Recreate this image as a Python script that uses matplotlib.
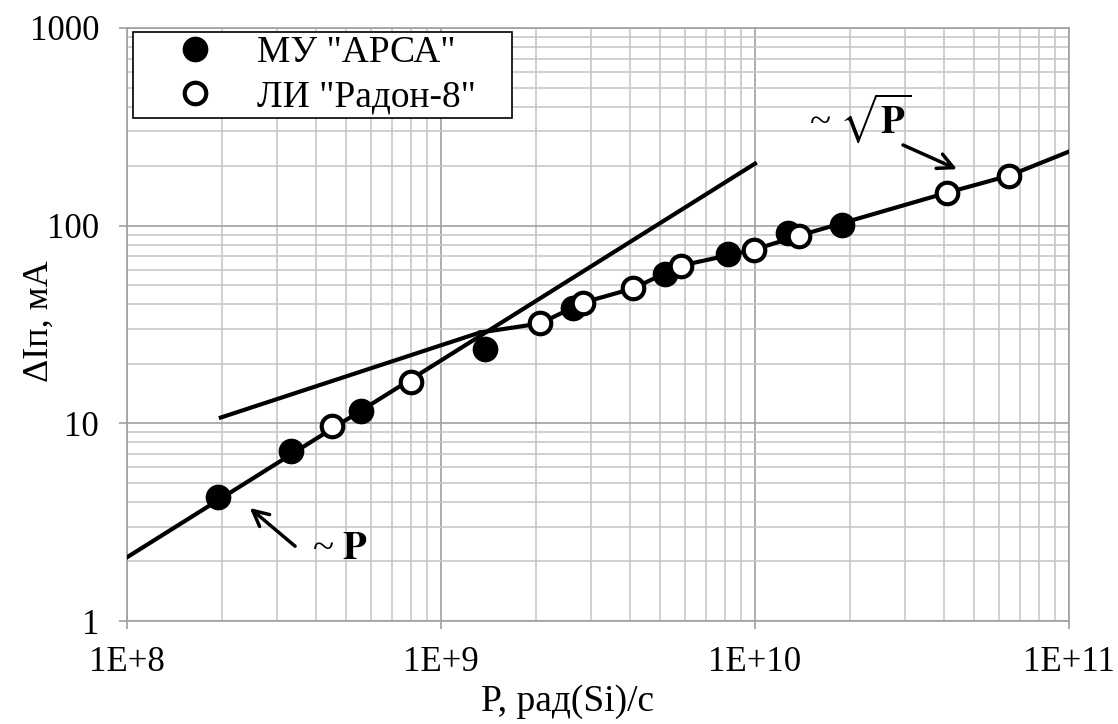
import matplotlib
matplotlib.use("Agg")
import matplotlib.pyplot as plt
from matplotlib.ticker import LogLocator, FixedLocator, NullFormatter

plt.rcParams['font.family'] = ['Liberation Serif', 'DejaVu Serif']
plt.rcParams['mathtext.fontset'] = 'stix'

# Data
arsa_x = [1.95e8, 3.33e8, 5.56e8, 1.38e9, 2.63e9, 5.17e9, 8.2e9, 1.27e10, 1.89e10]
arsa_y = [4.23, 7.22, 11.6, 23.9, 38.5, 57.2, 72.2, 92.2, 101]
radon_x = [4.5e8, 8.0e8, 2.07e9, 2.83e9, 4.09e9, 5.81e9, 9.93e9, 1.38e10, 4.09e10, 6.44e10]
radon_y = [9.66, 16.1, 32.0, 40.8, 48.1, 62.8, 75.6, 89.0, 146.8, 179]

# ~P line (linear)
lin_x = [1e8, 1e10]
lin_y = [2.1, 206]
# ~sqrt(P) line, low-power extension
sqrt_x = [1.99e8, 1.33e9]
sqrt_y = [10.7, 28.8]
# curve through the high-power data
curve_x = [1.33e9, 2.07e9, 2.83e9, 4.09e9, 5.81e9, 9.93e9, 1.38e10, 4.09e10, 6.44e10, 1e11]
curve_y = [28.8, 32.0, 40.8, 48.1, 62.8, 75.6, 89.0, 146.8, 179, 237]

x_ticks = [1e8, 1e9, 1e10, 1e11]
x_labels = ['1E+8', '1E+9', '1E+10', '1E+11']
y_ticks = [1, 10, 100, 1000]
y_labels = ['1', '10', '100', '1000']

W, H = 1118, 724
L, R, T, B = 127, 1069, 28, 621
fig = plt.figure(figsize=(W / 100, H / 100), dpi=100)
ax = fig.add_axes([L / W, 1 - B / H, (R - L) / W, (B - T) / H])
ax.set_xscale('log')
ax.set_yscale('log')
ax.set_xlim(1e8, 1e11)
ax.set_ylim(1, 1000)

ax.xaxis.set_major_locator(FixedLocator(x_ticks))
ax.yaxis.set_major_locator(FixedLocator(y_ticks))
ax.xaxis.set_minor_locator(LogLocator(base=10, subs=range(2, 10)))
ax.yaxis.set_minor_locator(LogLocator(base=10, subs=range(2, 10)))
ax.xaxis.set_minor_formatter(NullFormatter())
ax.yaxis.set_minor_formatter(NullFormatter())
ax.set_xticklabels(x_labels)
ax.set_yticklabels(y_labels)

ax.grid(True, which='major', color='#a0a0a0', lw=1.2, zorder=0)
ax.grid(True, which='minor', color='#c8c8c8', lw=1.2, zorder=0)
ax.set_axisbelow(True)
for s in ax.spines.values():
    s.set_color('#a0a0a0')
    s.set_linewidth(1.2)
ax.tick_params(which='major', length=6, width=1.2, color='#a0a0a0', labelsize=25)
ax.tick_params(axis='x', which='major', pad=12)
ax.tick_params(axis='y', which='major', pad=14)
ax.tick_params(which='minor', length=0)

ax.plot(lin_x, lin_y, color='black', lw=3, zorder=3)
ax.plot(sqrt_x, sqrt_y, color='black', lw=3, zorder=3)
ax.plot(curve_x, curve_y, color='black', lw=3, zorder=3)

ax.plot(arsa_x, arsa_y, 'o', ms=16.5, mfc='black', mec='black', mew=2, ls='none',
        label='МУ "АРСА"', zorder=4)
ax.plot(radon_x, radon_y, 'o', ms=15.5, mfc='white', mec='black', mew=3, ls='none',
        label='ЛИ "Радон-8"', zorder=5)

leg_box = ((133 - L) / (R - L), (B - 119) / (B - T), (512 - 133) / (R - L), (119 - 32) / (B - T))
leg = ax.legend(loc='upper left', bbox_to_anchor=leg_box, mode='expand', fontsize=27,
                frameon=True, fancybox=False, framealpha=1, edgecolor='black',
                borderpad=0.1, handletextpad=0.1, handlelength=3.1, labelspacing=0.25,
                borderaxespad=0)
leg.get_frame().set_linewidth(1.2)

arrow_kw = dict(arrowstyle='->', color='black', lw=2.5, mutation_scale=28,
                shrinkA=0, shrinkB=0)
ax.annotate('', xy=(2.46e8, 3.73), xytext=(3.43e8, 2.39), arrowprops=arrow_kw)
ax.text(4.77e8, 2.29, '~ $\\mathbf{P}$', fontsize=28, ha='center', va='center')
ax.annotate('', xy=(4.40e10, 193), xytext=(2.96e10, 256), arrowprops=arrow_kw)
ax.text(2.16e10, 350, '~ $\\sqrt{\\mathbf{P}}$', fontsize=28, ha='center', va='center')

ax.set_xlabel('P, рад(Si)/с', fontsize=27)
ax.set_ylabel('ΔIп, мА', fontsize=26)
ax.xaxis.set_label_coords((568 - L) / (R - L), -(684 - B) / (B - T))
ax.yaxis.set_label_coords(-(L - 56) / (R - L), (B - 321) / (B - T))

fig.savefig('out.png', dpi=100)
